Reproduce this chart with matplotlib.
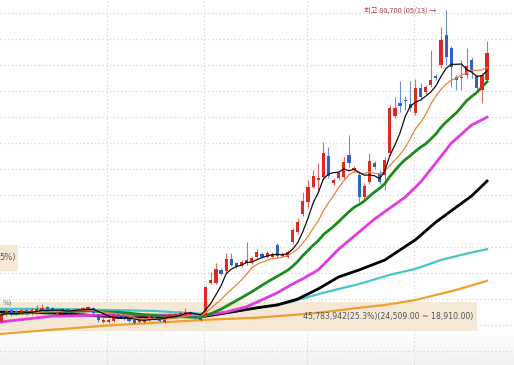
import numpy as np
import pandas as pd
import matplotlib
matplotlib.use("Agg")
import matplotlib.pyplot as plt

plt.rcParams['font.family'] = ['Noto Sans CJK KR', 'DejaVu Sans']

# ---------------- data (daily candles, price in KRW) ----------------
opens = [20600, 21900, 22800, 22700, 22100, 22900, 22200, 22400, 22500, 23400,
         23200, 22200, 22300, 23100, 22300, 22500, 22600, 22800, 23300, 22000,
         20500, 20500, 20800, 22600, 22300, 21500, 20900, 20500, 20600, 21000,
         21900, 21400, 20500, 21600, 21700, 21900, 21900, 22000, 22100, 21600,
         21900, 28000, 28100, 30500, 30400, 32700, 31900, 31400, 31900, 32100,
         33100, 33700, 33100, 33000, 35400, 33300, 33100, 36000, 37900, 41400,
         43700, 46600, 48000, 48500, 52500, 47300, 48300, 48500, 52700, 49800,
         48900, 44600, 47500, 51200, 49300, 48900, 53100, 60200, 62700, 63400,
         62500, 60800, 65600, 64900, 66200, 68000, 70000, 75800, 73300, 67700,
         67600, 68100, 71000, 67900, 65200, 67200]
highs = [22100, 23000, 23000, 22900, 23100, 23100, 23200, 23800, 24000, 23600,
         23400, 23100, 23200, 23300, 23100, 23300, 23400, 23600, 23500, 22200,
         21300, 21300, 22100, 22800, 22500, 21700, 21100, 21200, 21300, 21900,
         22100, 21600, 22000, 22300, 22400, 22600, 23300, 22700, 22300, 21800,
         27500, 30200, 31900, 30900, 33900, 33900, 32200, 32500, 36000, 33300,
         34600, 34000, 34300, 34000, 35800, 34000, 34400, 38700, 40600, 45600,
         47900, 49800, 51200, 55200, 54300, 48300, 49600, 52500, 56600, 50600,
         49600, 47300, 53100, 51600, 49800, 52300, 62300, 63900, 67000, 64100,
         67000, 67400, 66500, 66200, 72900, 68300, 77400, 80700, 73700, 68100,
         71000, 73300, 71600, 68300, 68500, 74700]
lows = [20400, 21700, 21800, 21900, 21900, 22000, 22000, 22200, 22300, 22300,
        22300, 22000, 22100, 22200, 22100, 22300, 22400, 22600, 22200, 20600,
        20300, 20300, 20600, 21300, 21000, 20600, 20200, 20300, 20400, 20800,
        21000, 20500, 20300, 21400, 21500, 21700, 21700, 21800, 21100, 20800,
        21700, 27800, 27900, 29600, 30000, 31300, 30900, 31100, 31600, 31800,
        32900, 32800, 32900, 32700, 32900, 33000, 32900, 35600, 37500, 41000,
        42500, 46300, 45400, 48000, 48300, 46900, 47900, 48100, 50400, 49400,
        43700, 44200, 47100, 50000, 47100, 46000, 52700, 59800, 61000, 61400,
        61200, 60400, 63300, 64500, 65800, 67100, 69500, 70000, 65800, 65200,
        65200, 67500, 67500, 65200, 62700, 66800]
closes = [21900, 22700, 22000, 22100, 22800, 22200, 22900, 23000, 23200, 22500,
          22600, 22900, 23000, 22400, 22900, 23100, 23200, 23400, 22400, 20900,
          21000, 21000, 21900, 21500, 21200, 20800, 20400, 21000, 21100, 21700,
          21200, 20700, 21800, 22100, 22200, 22400, 22500, 22500, 21300, 21000,
          27300, 28700, 30800, 29900, 32700, 31600, 31200, 32200, 32500, 32900,
          34100, 33100, 33900, 33600, 33300, 33700, 34100, 38300, 39900, 43900,
          46600, 48700, 48200, 53100, 48700, 47900, 49200, 51400, 51200, 50200,
          44600, 46800, 51600, 50400, 47500, 51800, 61800, 61800, 62100, 63100,
          61800, 65600, 63900, 65800, 67200, 67500, 74900, 71600, 69700, 67200,
          67800, 69900, 68700, 65600, 68100, 72300]

# long moving averages (candle index, price)
ma_long_idx = {
    'magenta': [0, 10, 20, 30, 40, 44, 48, 54, 57, 59, 62, 66, 70, 73, 76, 79, 82, 85, 88, 92, 95],
    'black':   [0, 10, 20, 30, 40, 50, 54, 58, 62, 66, 70, 75, 78, 81, 85, 89, 92, 95],
    'cyan':    [0, 10, 20, 30, 40, 44, 50, 56, 63, 70, 76, 81, 86, 90, 95],
    'orange':  [0, 20, 40, 50, 60, 65, 70, 75, 81, 89, 95],
}
ma_long_val = {
    'magenta': [20600, 21700, 21900, 21900, 21900, 22500, 23500, 26200, 27900, 28900, 30600,
                34600, 37900, 40400, 42500, 44600, 47500, 51200, 55000, 58500, 60000],
    'black':   [22500, 22300, 21700, 21500, 21700, 23300, 23850, 25000, 26950, 29250, 30600,
                32500, 34450, 36400, 39800, 42700, 44850, 47700],
    'cyan':    [23100, 23100, 22900, 22700, 22100, 22300, 23300, 24250, 26200, 27900, 29650,
                30800, 32500, 33500, 34600],
    'orange':  [18300, 19850, 21000, 21400, 22150, 22700, 23300, 23850, 24800, 26750, 28500],
}

band_low, band_high = 18910, 24509
band_text = "45,783,942(25.3%)(24,509.00 ~ 18,910.00)"
peak_date = "05/13"

# ---------------- figure ----------------
W, H = 514, 365
fig = plt.figure(figsize=(W / 100, H / 100), dpi=100)
ax = fig.add_axes([0, 0, 1, 1])
ax.set_xlim(-0.215, 100.27)
ax.set_ylim(12296, 82560)
ax.set_axis_off()

# faint gradient at bottom
grad = np.linspace(0, 1, 50).reshape(-1, 1)
ax.imshow(grad, extent=(-0.215, 100.27, 12296, 18900), aspect='auto',
          cmap=matplotlib.colors.LinearSegmentedColormap.from_list('g', ['#ffffff', '#f2f2f2']),
          zorder=0)

# grid
for p in range(15000, 80001, 5000):
    ax.axhline(p, color='#d6d6d6', lw=0.8, ls=(0, (1.2, 2.2)), zorder=1)
for gx in [20.7, 39.7, 59.8, 80.7]:
    ax.axvline(gx, color='#d6d6d6', lw=0.8, ls=(0, (1.2, 2.2)), zorder=1)

# volume-profile band
ax.fill_between([-0.215, 93.05], band_low, band_high, color='#f6e8d6', zorder=1.5, lw=0)
ax.text(75.6, 21700, band_text, fontsize=5.6, color='#555555', ha='center', va='center',
        family='DejaVu Sans', zorder=6)
ax.text(1.2, 24350, "%)", fontsize=5, color='#777777', ha='center', va='center',
        family='DejaVu Sans', zorder=6)
# cut-off label box at left
ax.fill_between([-0.215, 3.3], 30400, 35400, color='#f6e8d6', zorder=1.5, lw=0)
ax.text(2.85, 32900, "5%)", fontsize=6, color='#555555', ha='right', va='center',
        family='DejaVu Sans', zorder=6)

# short moving averages from closes
n = len(closes)
idx = np.arange(n)
s = pd.Series(closes, dtype=float)
ma5 = s.rolling(5, min_periods=1).mean()
ma10 = s.rolling(10, min_periods=1).mean()
ma20 = s.rolling(20, min_periods=1).mean()

ax.plot(ma_long_idx['orange'], ma_long_val['orange'], color='#f0a030', lw=1.6, zorder=4)
ax.plot(ma_long_idx['cyan'], ma_long_val['cyan'], color='#45c6c6', lw=1.6, zorder=4)
ax.plot(ma_long_idx['black'], ma_long_val['black'], color='#000000', lw=2.0, zorder=4)
ax.plot(ma_long_idx['magenta'], ma_long_val['magenta'], color='#e23be0', lw=2.0, zorder=4)
ax.plot(idx, ma20, color='#1c8c1c', lw=2.0, zorder=4.2)

# candles
red, blue = '#dc2a22', '#2d62c9'
for i in range(n):
    o, h, l, c = opens[i], highs[i], lows[i], closes[i]
    col = red if c >= o else blue
    ax.vlines(i, l, h, color=col, lw=0.8, alpha=0.7, zorder=4.3)
    body = max(abs(c - o), 200)
    ax.bar(i, body, bottom=min(o, c), width=0.62, color=col, lw=0, zorder=4.35)

ax.plot(idx, ma10, color='#e8863a', lw=0.9, zorder=4.4)
ax.plot(idx, ma5, color='#111111', lw=0.9, zorder=4.5)

# peak annotation
pk = int(np.argmax(highs))
ax.text(pk - 2.0, highs[pk] - 250, f"최고 {highs[pk]:,} ({peak_date}) →", fontsize=5.3,
        color='#b03a3a', ha='right', va='center', zorder=6)

fig.savefig('out.png', dpi=100)
